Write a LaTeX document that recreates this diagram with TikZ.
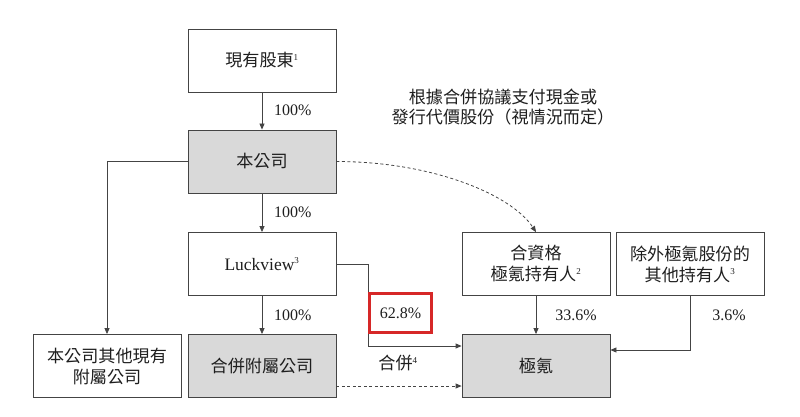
\documentclass[tikz,border=0pt]{standalone}
\usepackage{fontspec}
\setmainfont{Liberation Serif}
\newfontfamily\cjk{Noto Sans CJK TC}[Scale=1.07]
\usetikzlibrary{arrows.meta,calc}
\definecolor{linec}{HTML}{444444}
\definecolor{boxfill}{HTML}{D9D9D9}
\definecolor{hlred}{HTML}{D62828}
\definecolor{txt}{HTML}{1E1E1E}
\begin{document}
\begin{tikzpicture}[x=1pt,y=-1pt,
  box/.style={draw=linec, line width=0.8pt, minimum width=148pt, minimum height=63pt,
    inner sep=0pt, align=center, text=txt, font=\fontsize{16}{21}\selectfont},
  gbox/.style={box, fill=boxfill},
  arr/.style={draw=linec, line width=0.8pt, -{Triangle[length=6pt,width=5pt]}},
  darr/.style={arr, dash pattern=on 3pt off 2.5pt},
  lab/.style={text=txt, font=\fontsize{16}{20}\selectfont, inner sep=0pt},
  hlbox/.style={draw=hlred, line width=3.4pt, minimum width=62pt, minimum height=39pt,
    inner sep=0pt, text=txt, font=\fontsize{16}{20}\selectfont}
]
\useasboundingbox (0,0) rectangle (800,417);

% boxes
\node[box]  (sh)  at (262,60.5)  {{\cjk 現有股東}\textsuperscript{\fontsize{9}{9}\selectfont 1}};
\node[gbox] (co)  at (262,161.5) {\cjk 本公司};
\node[box, font=\fontsize{17.5}{21}\selectfont]  (lv)  at (262,264)   {Luckview\textsuperscript{\fontsize{9}{9}\selectfont 3}};
\node[gbox] (sub) at (262,366)   {\cjk 合併附屬公司};
\node[box]  (oth) at (107,366)   {\cjk 本公司其他現有\\\cjk 附屬公司};
\node[box]  (q)   at (536,264)   {\cjk 合資格\\{\cjk 極氪持有人}\textsuperscript{\fontsize{9}{9}\selectfont 2}};
\node[box]  (ex)  at (690,264)   {\cjk 除外極氪股份的\\{\cjk 其他持有人}\textsuperscript{\fontsize{9}{9}\selectfont 3}};
\node[gbox] (zk)  at (536,366)   {\cjk 極氪};

% annotation
\node[lab, align=center, font=\fontsize{16}{20}\selectfont] (note) at (503,107)
  {\cjk 根據合併協議支付現金或\\\cjk 發行代價股份（視情況而定）};

% connectors
\draw[arr] (sh.south) -- (co.north);
\draw[arr] (co.south) -- (lv.north);
\draw[arr] (lv.south) -- (sub.north);
\draw[arr] (co.west) -| (oth.north);

\coordinate (j1) at (368,346);
\draw[arr] (lv.east) -| (j1) -- (j1 -| zk.west);
\draw[darr] ([yshift=-20pt]sub.east) -- ([yshift=-20pt]zk.west);

\draw[darr] (co.east) .. controls +(95,0) and +(-25,-38) .. (q.north);
\draw[arr] (q.south) -- (zk.north);
\draw[arr] (ex.south) |- ([yshift=16pt]zk.east);

% highlighted share
\node[hlbox] (hl) at (400.5,313) {62.8\%};

% labels
\node[lab, anchor=west] (p1) at (274,110) {100\%};
\node[lab, anchor=west] (p2) at (274,212) {100\%};
\node[lab, anchor=west] (p3) at (274,315) {100\%};
\node[lab] (p4) at (576,315) {33.6\%};
\node[lab] (p5) at (729,315) {3.6\%};
\node[lab] (mg) at (398,363) {{\cjk 合併}\textsuperscript{\fontsize{9}{9}\selectfont 4}};
\end{tikzpicture}
\end{document}
